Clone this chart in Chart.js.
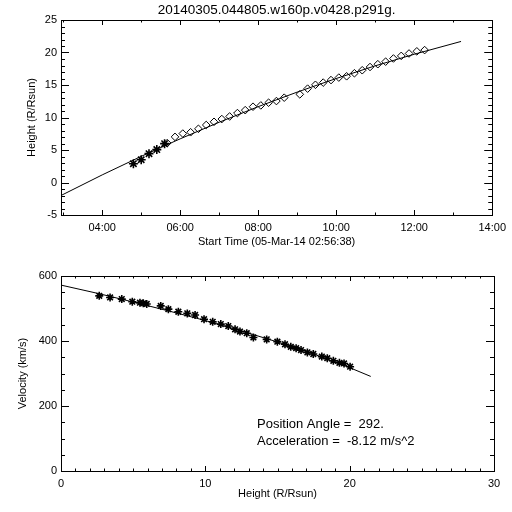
<!DOCTYPE html>
<html lang="en">
<head>
<meta charset="UTF-8">
<title>20140305.044805.w160p.v0428.p291g</title>
<script src="https://cdn.jsdelivr.net/npm/chart.js"></script>
<style>
  body { margin: 0; background: #fff; }
  .panel { width: 512px; height: 256px; }
</style>
</head>
<body>
<div class="panel"><canvas id="htChart" width="512" height="256"></canvas></div>
<div class="panel"><canvas id="velChart" width="512" height="256"></canvas></div>
<script>
// ---- data ----
const plotTitle = '20140305.044805.w160p.v0428.p291g.';
const startTime = '05-Mar-14 02:56:38';
const positionAngle = '292.';
const acceleration = '-8.12';

// C2 heights (asterisks)
const c2Times = ['04:48', '05:00', '05:12', '05:24', '05:36'];
const c2Heights = [2.89, 3.50, 4.44, 5.06, 5.98];

// C3 heights (diamonds)
const c3Times = ['05:40', '05:52', '06:04', '06:16', '06:28', '06:40', '06:52', '07:04', '07:16', '07:28',
                 '07:40', '07:52', '08:04', '08:16', '08:28', '08:40', '09:04', '09:16', '09:28', '09:40',
                 '09:52', '10:04', '10:16', '10:28', '10:40', '10:52', '11:04', '11:16', '11:28', '11:40',
                 '11:52', '12:04', '12:16'];
const c3Heights = [6.06, 7.02, 7.53, 7.73, 8.26, 8.85, 9.34, 9.76, 10.16, 10.68,
                   11.13, 11.66, 11.86, 12.28, 12.53, 13.05, 13.56, 14.44, 15.03, 15.37,
                   15.76, 16.14, 16.34, 16.81, 17.27, 17.77, 18.20, 18.59, 19.08, 19.48,
                   19.85, 20.18, 20.37];

// fitted height-time curve
const fitTimes = ['02:56:38', '04:00', '05:00', '06:00', '07:00', '08:00', '09:00', '10:00', '11:00', '12:00', '13:12'];
const fitHeights = [-2.0, 1.17, 4.02, 6.72, 9.27, 11.67, 13.91, 16.0, 17.95, 19.73, 21.7];

// velocity vs height
const velHeights = [2.65, 3.40, 4.21, 4.94, 5.47, 5.70, 5.94, 6.91, 7.44, 8.13, 8.75, 9.29, 9.91,
                    10.51, 11.07, 11.59, 12.06, 12.40, 12.87, 13.33, 14.25, 14.99, 15.52, 15.92, 16.29,
                    16.63, 17.07, 17.48, 18.07, 18.45, 18.87, 19.29, 19.61, 20.03];
const velValues = [539, 534, 529, 521, 518, 516, 514, 508, 498, 490, 485, 480, 467,
                   459, 452, 446, 436, 429, 424, 411, 405, 398, 390, 382, 378,
                   372, 365, 360, 352, 347, 339, 333, 331, 321];

// fitted velocity curve
const velFitHeights = [0, 2.5, 5, 7.5, 10, 12.5, 15, 17.5, 20, 21.46];
const velFitValues = [572, 547, 520, 492, 463, 431, 397, 360, 318, 291];

// tick labels
const timeTicks = ['04:00', '06:00', '08:00', '10:00', '12:00', '14:00'];
const heightTicks = [-5, 0, 5, 10, 15, 20, 25];
const radiusTicks = [0, 10, 20, 30];
const velocityTicks = [0, 200, 400, 600];

// ---- helpers ----
function toHours(s) {
    const p = s.split(':').map(Number);
    return p[0] + p[1] / 60 + (p[2] || 0) / 3600;
}
function fmtHours(v) {
    const h = Math.floor(v + 1e-6);
    const m = Math.round((v - h) * 60);
    return String(h).padStart(2, '0') + ':' + String(m).padStart(2, '0');
}
function pts(xs, ys) {
    return xs.map((x, i) => ({ x: x, y: ys[i] }));
}
function range(a, b, step) {
    const out = [];
    for (let v = a; v <= b + 1e-9; v += step) out.push(v);
    return out;
}

const FONT = 'Liberation Sans';
Chart.defaults.font.family = FONT;
Chart.defaults.color = '#000';

// box + inward ticks on all four sides, IDL style
const idlFrame = {
    id: 'idlFrame',
    afterDraw(chart, args, opts) {
        const { ctx, chartArea: a, scales: { x, y } } = chart;
        ctx.save();
        ctx.strokeStyle = '#000';
        ctx.lineWidth = 1;
        ctx.strokeRect(Math.round(a.left) + 0.5, Math.round(a.top) + 0.5,
                       Math.round(a.right - a.left), Math.round(a.bottom - a.top));
        ctx.beginPath();
        const xt = (v, len) => {
            const px = Math.round(x.getPixelForValue(v)) + 0.5;
            ctx.moveTo(px, a.bottom); ctx.lineTo(px, a.bottom - len);
            ctx.moveTo(px, a.top); ctx.lineTo(px, a.top + len);
        };
        const yt = (v, len) => {
            const py = Math.round(y.getPixelForValue(v)) + 0.5;
            ctx.moveTo(a.left, py); ctx.lineTo(a.left + len, py);
            ctx.moveTo(a.right, py); ctx.lineTo(a.right - len, py);
        };
        opts.xMinor.forEach(v => xt(v, 2.5));
        opts.xMajor.forEach(v => xt(v, 5));
        opts.yMinor.forEach(v => yt(v, 4));
        opts.yMajor.forEach(v => yt(v, 8));
        ctx.stroke();

        ctx.fillStyle = '#000';
        (opts.texts || []).forEach(t => {
            ctx.font = t.font;
            ctx.textAlign = t.align;
            ctx.textBaseline = 'middle';
            const tx = t.x === 'center' ? (a.left + a.right) / 2 : t.x;
            ctx.fillText(t.text, tx, t.y);
        });
        ctx.restore();
    }
};

function baseOptions(cfg) {
    return {
        responsive: false,
        animation: false,
        layout: { padding: { top: 20, right: 18, left: 0, bottom: 0 } },
        plugins: {
            legend: { display: false },
            tooltip: { enabled: false },
            idlFrame: cfg.frame
        },
        scales: {
            x: {
                type: 'linear',
                min: cfg.xMin,
                max: cfg.xMax,
                grid: { display: false, drawTicks: false },
                border: { display: false },
                afterFit: s => { s.height = 41; },
                afterBuildTicks: s => { s.ticks = cfg.xTicks.map(v => ({ value: v })); },
                ticks: { padding: 6, maxRotation: 0, autoSkip: false, font: { size: 11 }, callback: cfg.xFmt },
                title: { display: true, text: cfg.xTitle, font: { size: 11 }, padding: { top: 0, bottom: cfg.xTitlePad } }
            },
            y: {
                type: 'linear',
                min: cfg.yMin,
                max: cfg.yMax,
                grid: { display: false, drawTicks: false },
                border: { display: false },
                afterFit: s => { s.width = 61; },
                afterBuildTicks: s => { s.ticks = cfg.yTicks.map(v => ({ value: v })); },
                ticks: { padding: 4, autoSkip: false, font: { size: 11 } },
                title: { display: true, text: cfg.yTitle, font: { size: 11 }, padding: { top: cfg.yTitlePad, bottom: 0 } }
            }
        }
    };
}

// ---- top panel: height vs time ----
const tMin = toHours(startTime.split(' ')[1]);
new Chart(document.getElementById('htChart'), {
    type: 'scatter',
    data: {
        datasets: [
            {
                data: pts(fitTimes.map(toHours), fitHeights),
                showLine: true,
                borderColor: '#000',
                borderWidth: 1,
                pointRadius: 0
            },
            {
                data: pts(c3Times.map(toHours), c3Heights),
                pointStyle: 'rectRot',
                pointRadius: 3.8,
                borderColor: '#000',
                backgroundColor: 'rgba(255,255,255,0)',
                borderWidth: 1
            },
            {
                data: pts(c2Times.map(toHours), c2Heights),
                pointStyle: 'star',
                pointRadius: 4.5,
                borderColor: '#000',
                borderWidth: 1.6
            }
        ]
    },
    options: baseOptions({
        xMin: tMin, xMax: 14,
        xTicks: timeTicks.map(toHours),
        xFmt: v => fmtHours(v),
        xTitle: 'Start Time (' + startTime + ')',
        xTitlePad: 7,
        yMin: -5, yMax: 25,
        yTicks: heightTicks,
        yTitle: 'Height (R/Rsun)',
        yTitlePad: 25,
        frame: {
            xMajor: timeTicks.map(toHours),
            xMinor: range(3, 13, 1),
            yMajor: heightTicks,
            yMinor: range(-4, 24, 1),
            texts: [{ text: plotTitle, x: 'center', y: 10, align: 'center', font: '13.5px ' + FONT }]
        }
    }),
    plugins: [idlFrame]
});

// ---- bottom panel: velocity vs height ----
new Chart(document.getElementById('velChart'), {
    type: 'scatter',
    data: {
        datasets: [
            {
                data: pts(velFitHeights, velFitValues),
                showLine: true,
                borderColor: '#000',
                borderWidth: 1,
                pointRadius: 0
            },
            {
                data: pts(velHeights, velValues),
                pointStyle: 'star',
                pointRadius: 4,
                borderColor: '#000',
                borderWidth: 1.6
            }
        ]
    },
    options: baseOptions({
        xMin: 0, xMax: 30,
        xTicks: radiusTicks,
        xFmt: v => String(v),
        xTitle: 'Height (R/Rsun)',
        xTitlePad: 11,
        yMin: 0, yMax: 600,
        yTicks: velocityTicks,
        yTitle: 'Velocity (km/s)',
        yTitlePad: 16,
        frame: {
            xMajor: radiusTicks,
            xMinor: range(1, 29, 1),
            yMajor: velocityTicks,
            yMinor: range(50, 550, 50),
            texts: [
                { text: 'Position Angle =  ' + positionAngle, x: 257, y: 168, align: 'left', font: '13px ' + FONT },
                { text: 'Acceleration =  ' + acceleration + ' m/s^2', x: 257, y: 185, align: 'left', font: '13px ' + FONT }
            ]
        }
    }),
    plugins: [idlFrame]
});
</script>
</body>
</html>
